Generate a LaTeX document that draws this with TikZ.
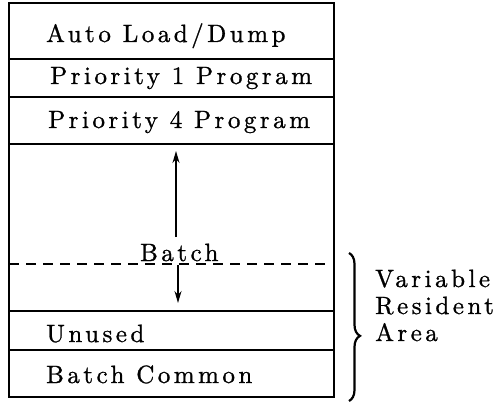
\documentclass[tikz,border=0pt]{standalone}
\usepackage{fontspec}
\setmainfont{lmroman10-regular.otf}[LetterSpace=14,FakeBold=1]
\usetikzlibrary{decorations.pathreplacing,arrows.meta}
\begin{document}
\begin{tikzpicture}[x=1pt,y=-1pt,
  frame/.style={draw=black,line width=1.6pt},
  sep/.style={draw=black,line width=1.5pt},
  lbl/.style={anchor=base west,inner sep=0pt,font=\fontsize{25}{29}\selectfont},
  mv/.style={line width=1.6pt,-{Stealth[length=12pt,width=7pt]}}]
\useasboundingbox (0,0) rectangle (493,404);
% memory map outline and partitions
\draw[frame] (9,3) rectangle (334,397);
\draw[sep] (9,59) -- (334,59);
\draw[sep] (9,97) -- (334,97);
\draw[sep] (9,144) -- (334,144);
\draw[sep] (9,311) -- (334,311);
\draw[sep] (9,350) -- (334,350);
\draw[line width=2.4pt,dash pattern=on 10pt off 7pt] (9,264) -- (332,264);
% region labels
\node[lbl] (ald) at (46,42) {Auto Load/Dump};
\node[lbl] (p1) at (50,84) {Priority 1 Program};
\node[lbl] (p4) at (48,128) {Priority 4 Program};
\node[lbl] (bt) at (140,261) {Batch};
\node[lbl] (un) at (46,342) {Unused};
\node[lbl] (bc) at (46,383) {Batch Common};
% growth arrows of the batch area
\coordinate (upA) at (176,237);
\coordinate (upB) at (176,151);
\coordinate (dnA) at (178,265);
\coordinate (dnB) at (178,303);
\draw[mv] (upA) -- (upB);
\draw[mv] (dnA) -- (dnB);
% brace for the variable resident area
\coordinate (brT) at (349,253);
\coordinate (brB) at (349,401);
\draw[line width=2.2pt,decorate,decoration={brace,amplitude=11pt,aspect=0.56}] (brT) -- (brB);
\node[lbl] (v1) at (375,287) {Variable};
\node[lbl] (v2) at (375,314) {Resident};
\node[lbl] (v3) at (375,341) {Area};
\end{tikzpicture}
\end{document}
